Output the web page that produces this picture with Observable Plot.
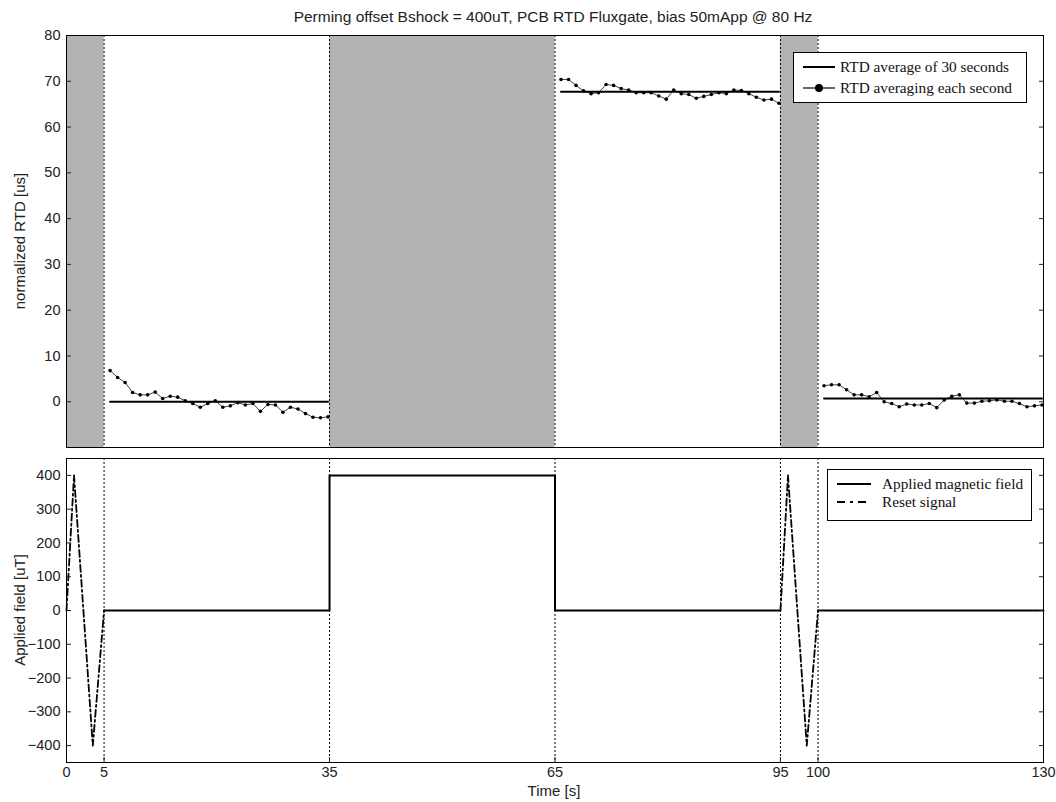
<!DOCTYPE html>
<html><head><meta charset="utf-8">
<script src="https://cdn.jsdelivr.net/npm/d3@7"></script>
<script src="https://cdn.jsdelivr.net/npm/@observablehq/plot@0.6"></script>
<style>
body{margin:0;background:#fff;}
#wrap{position:relative;width:1056px;height:802px;font-family:"Liberation Sans",Arial,sans-serif;color:#222;}
#wrap svg{position:absolute;left:0;overflow:visible;}
.abs{position:absolute;white-space:nowrap;}
.ylab{position:absolute;font-size:15px;transform:translate(-50%,-50%) rotate(-90deg);white-space:nowrap;}
.legend{position:absolute;border:1px solid #000;background:#fff;font-family:"Liberation Serif","Times New Roman",serif;font-size:15.3px;color:#111;}
.legend svg{position:absolute;left:0;top:0;}
.legend .t{position:absolute;white-space:nowrap;transform:translateY(-50%);}
</style></head><body><div id="wrap"></div>
<script>
// ---- data ----
const shadedStart = [0, 35, 95];
const shadedEnd = [5, 65, 100];
const boundaries = [5, 35, 65, 95, 100];
const segmentStart = [5.8, 65.8, 100.8];   // first 1-s sample of each measurement window
const rtdSeg1 = [6.8, 5.3, 4.2, 2.0, 1.5, 1.5, 2.1, 0.7, 1.2, 1.0, 0.2, -0.4, -1.2, -0.4, 0.2, -1.2, -0.9, -0.2, -0.7, -0.4, -2.1, -0.6, -0.7, -2.3, -1.2, -1.6, -2.6, -3.4, -3.5, -3.3];
const rtdSeg2 = [70.4, 70.4, 69.1, 67.9, 67.3, 67.5, 69.3, 69.1, 68.4, 68.1, 67.5, 67.5, 67.5, 66.8, 66.1, 68.1, 67.3, 67.1, 66.3, 66.7, 67.1, 67.5, 67.3, 68.1, 68.0, 67.3, 66.5, 65.9, 66.1, 65.2];
const rtdSeg3 = [3.5, 3.7, 3.7, 2.6, 1.5, 1.5, 1.1, 2.0, 0.0, -0.4, -1.1, -0.5, -0.7, -0.7, -0.4, -1.3, 0.4, 1.2, 1.5, -0.3, -0.3, 0.1, 0.2, 0.4, 0.1, 0.1, -0.4, -1.1, -0.9, -0.7];
const rtdMean = [0.0, 67.7, 0.7];
const meanStart = [5.8, 65.8, 100.8];
const meanEnd = [34.8, 94.8, 129.8];

const fieldTime1 = [5, 35, 35, 65, 65, 95];
const fieldValue1 = [0, 0, 400, 400, 0, 0];
const fieldTime2 = [100, 130];
const fieldValue2 = [0, 0];
const resetTime1 = [0, 1, 3.5, 5];
const resetTime2 = [95, 96, 98.5, 100];
const resetValue = [0, 400, -400, 0];

const topTicks = [0, 10, 20, 30, 40, 50, 60, 70, 80];
const bottomTicks = [-400, -300, -200, -100, 0, 100, 200, 300, 400];
const xTicks = [0, 5, 35, 65, 95, 100, 130];

// ---- tables ----
const shaded = shadedStart.map((s, i) => ({start: s, end: shadedEnd[i]}));
const rtdRows = [rtdSeg1, rtdSeg2, rtdSeg3].flatMap((arr, k) => arr.map((v, i) => ({t: segmentStart[k] + i, v, seg: k})));
const meanRows = rtdMean.flatMap((m, k) => [{t: meanStart[k], v: m, seg: k}, {t: meanEnd[k], v: m, seg: k}]);
const fieldRows = [
  ...fieldTime1.map((t, i) => ({t, v: fieldValue1[i], seg: 0})),
  ...fieldTime2.map((t, i) => ({t, v: fieldValue2[i], seg: 1}))
];
const resetRows = [
  ...resetTime1.map((t, i) => ({t, v: resetValue[i], seg: 0})),
  ...resetTime2.map((t, i) => ({t, v: resetValue[i], seg: 1}))
];

const wrap = document.getElementById("wrap");
const axisStyle = {fontSize: 14.5, tickSize: -5, tickPadding: 11, label: null, color: "#222"};

const topPlot = Plot.plot({
  width: 1056, height: 452,
  marginLeft: 66, marginRight: 13, marginTop: 35, marginBottom: 5,
  style: {fontFamily: "Liberation Sans, Arial, sans-serif", fontSize: "14.5px", background: "transparent"},
  x: {domain: [0, 130], axis: null},
  y: {domain: [-10, 80]},
  marks: [
    Plot.rect(shaded, {x1: "start", x2: "end", fill: "#b3b3b3"}),
    Plot.ruleX(boundaries, {stroke: "#000", strokeWidth: 1, strokeDasharray: "2,2"}),
    Plot.line(rtdRows, {x: "t", y: "v", z: "seg", stroke: "#444", strokeWidth: 1}),
    Plot.dot(rtdRows, {x: "t", y: "v", r: 1.8, fill: "#000", stroke: null}),
    Plot.line(meanRows, {x: "t", y: "v", z: "seg", stroke: "#000", strokeWidth: 2}),
    Plot.axisY({...axisStyle, ticks: topTicks}),
    Plot.axisY({anchor: "right", ticks: topTicks, tickSize: -5, tickFormat: () => "", label: null}),
    Plot.frame({stroke: "#000", strokeWidth: 1})
  ]
});
topPlot.style.top = "0px";
wrap.appendChild(topPlot);

const bottomPlot = Plot.plot({
  width: 1056, height: 350,
  marginLeft: 66, marginRight: 13, marginTop: 6, marginBottom: 40,
  style: {fontFamily: "Liberation Sans, Arial, sans-serif", fontSize: "14.5px", background: "transparent"},
  x: {domain: [0, 130]},
  y: {domain: [-450, 450]},
  marks: [
    Plot.ruleX(boundaries, {stroke: "#000", strokeWidth: 1, strokeDasharray: "2,2"}),
    Plot.line(fieldRows, {x: "t", y: "v", z: "seg", stroke: "#000", strokeWidth: 2}),
    Plot.line(resetRows, {x: "t", y: "v", z: "seg", stroke: "#000", strokeWidth: 1.8, strokeDasharray: "7,3,2,3"}),
    Plot.axisY({...axisStyle, ticks: bottomTicks}),
    Plot.axisY({anchor: "right", ticks: bottomTicks, tickSize: -5, tickFormat: () => "", label: null}),
    Plot.axisX({...axisStyle, ticks: xTicks, tickPadding: 9}),
    Plot.frame({stroke: "#000", strokeWidth: 1})
  ]
});
bottomPlot.style.top = "452px";
wrap.appendChild(bottomPlot);

// ---- texts ----
function addDiv(cls, html, css) {
  const d = document.createElement("div");
  d.className = cls; d.innerHTML = html; Object.assign(d.style, css); wrap.appendChild(d); return d;
}
addDiv("abs", "Perming offset Bshock = 400uT, PCB RTD Fluxgate, bias 50mApp @ 80 Hz",
  {left: "553px", top: "17px", transform: "translate(-50%,-50%)", fontSize: "15.5px"});
addDiv("abs", "Time [s]", {left: "554px", top: "790px", transform: "translate(-50%,-50%)", fontSize: "15px"});
addDiv("ylab", "normalized RTD [us]", {left: "19px", top: "241px"});
addDiv("ylab", "Applied field [uT]", {left: "19px", top: "610px"});

// legends
addDiv("legend",
  `<svg width="233" height="50">
     <line x1="9" x2="41" y1="14" y2="14" stroke="#000" stroke-width="2"/>
     <line x1="9" x2="41" y1="35" y2="35" stroke="#000" stroke-width="1.2"/>
     <circle cx="25" cy="35" r="4" fill="#000"/>
   </svg>
   <div class="t" style="left:46px;top:14px">RTD average of 30 seconds</div>
   <div class="t" style="left:46px;top:35px">RTD averaging each second</div>`,
  {left: "793px", top: "52px", width: "232px", height: "49px"});
addDiv("legend",
  `<svg width="204" height="51">
     <line x1="9" x2="43" y1="14" y2="14" stroke="#000" stroke-width="2"/>
     <line x1="9" x2="43" y1="32" y2="32" stroke="#000" stroke-width="2" stroke-dasharray="8,5,3,5"/>
   </svg>
   <div class="t" style="left:54px;top:14px">Applied magnetic field</div>
   <div class="t" style="left:54px;top:32px">Reset signal</div>`,
  {left: "827px", top: "469px", width: "203px", height: "50px"});
</script>
</body></html>
